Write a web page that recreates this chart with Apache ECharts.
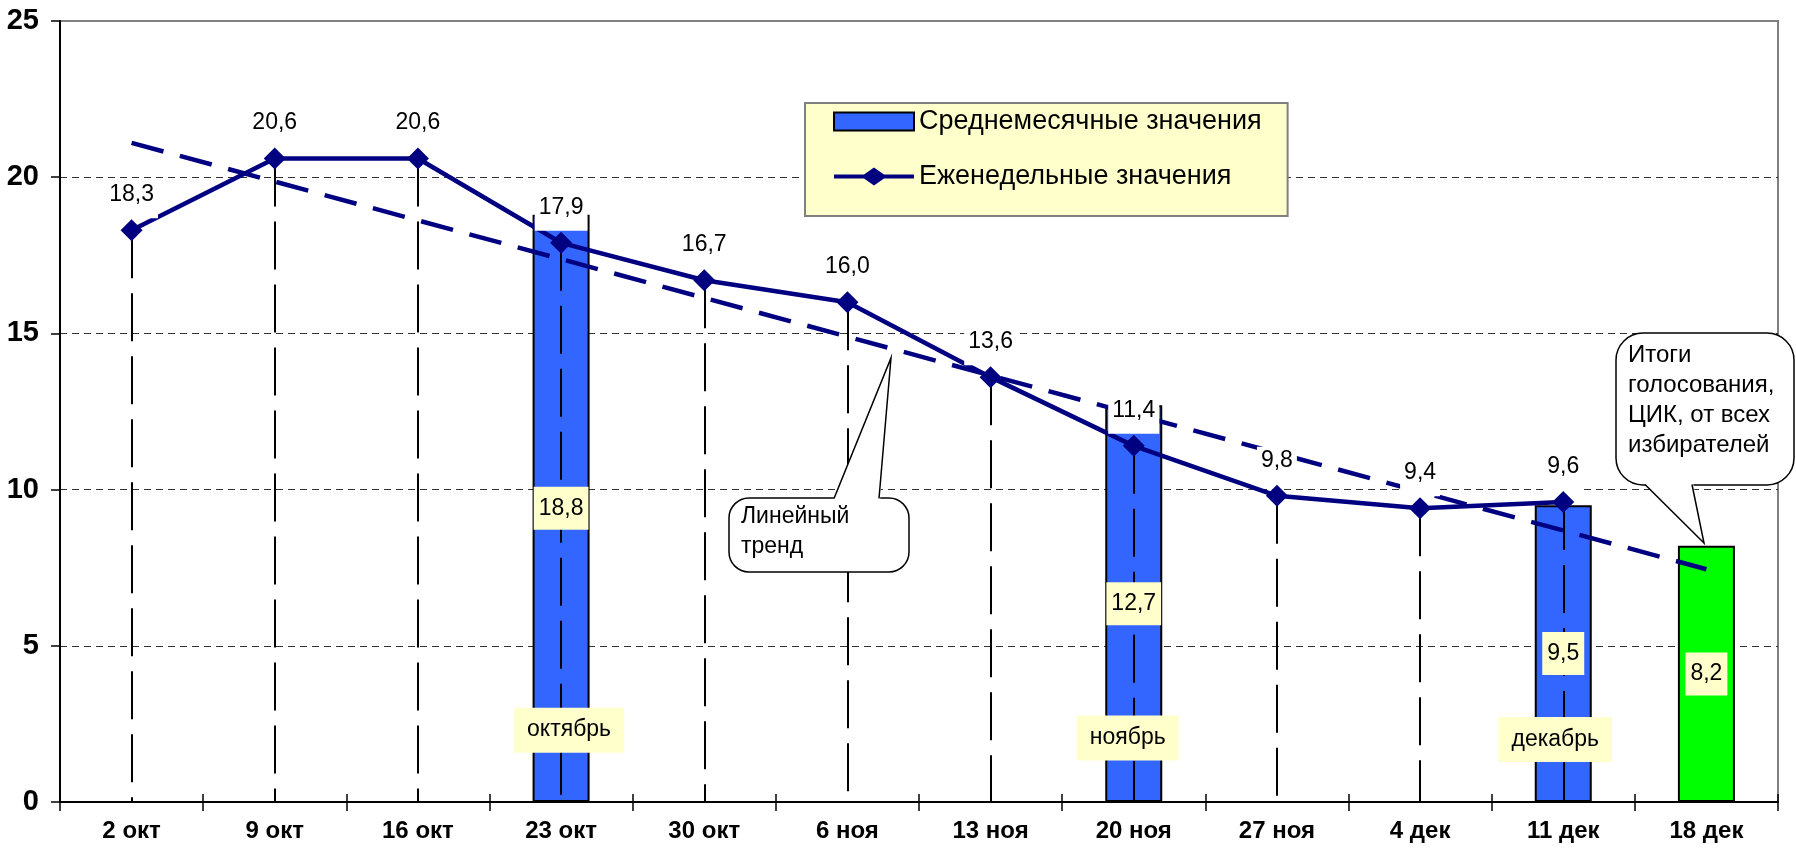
<!DOCTYPE html>
<html><head><meta charset="utf-8">
<script src="https://cdn.jsdelivr.net/npm/echarts@6/dist/echarts.min.js"></script>
<style>html,body{margin:0;padding:0;background:#fff}#c{width:1796px;height:851px}</style>
</head><body><div id="c"></div>
<script>
// ---- data ----
const categories = ['2 окт','9 окт','16 окт','23 окт','30 окт','6 ноя','13 ноя','20 ноя','27 ноя','4 дек','11 дек','18 дек'];
const weeklyValues  = [18.3, 20.6, 20.6, 17.9, 16.7, 16.0, 13.6, 11.4, 9.8, 9.4, 9.6, null];
const monthlyValues = [null, null, null, 18.8, null, null, null, 12.7, null, null, 9.5, null];
const cikValues     = [null, null, null, null, null, null, null, null, null, null, null, 8.2];
const trendValues   = [21.1, null, null, null, null, null, null, null, null, null, null, 7.45];
const monthNames      = ['октябрь', 'ноябрь', 'декабрь'];
const monthCategories = ['23 окт', '20 ноя', '11 дек'];
const monthLevels     = [2.3, 2.05, 2.0];
const yMin = 0, yMax = 25, yStep = 5;
const legendNames = ['Среднемесячные значения', 'Еженедельные значения'];
const trendCallout = 'Линейный\nтренд';
const cikCallout = 'Итоги\nголосования,\nЦИК, от всех\nизбирателей';

// ---- styling ----
const FONT = 'Arial, "Liberation Sans", sans-serif';
const NAVY = '#000080', BLUE = '#3366FF', GREEN = '#00FF00', CREAM = '#FFFFCC';
const fmt = v => Number(v).toFixed(1).replace('.', ',');

const barValues = categories.map((c, i) => cikValues[i] != null ? cikValues[i] : monthlyValues[i]);
const barData = categories.map((c, i) => {
  if (cikValues[i] != null) return { value: cikValues[i], itemStyle: { color: GREEN } };
  return monthlyValues[i];
});
// label anchors at the middle of each bar (same as 'inside' placement)
const barLabelData = [];
barValues.forEach((v, i) => { if (v != null) barLabelData.push({ name: fmt(v), value: [i, v / 2] }); });

const dropLines = [];
weeklyValues.forEach((v, i) => {
  if (v != null) dropLines.push([{ coord: [i, v] }, { coord: [i, 0] }]);
});

const monthOffsets = [[8, 0], [-6, 0], [-8, 0]];
const monthData = monthNames.map((m, i) => ({
  name: m,
  value: [categories.indexOf(monthCategories[i]), monthLevels[i]],
  label: { offset: monthOffsets[i] }
}));

const legendLineIcon = 'path://M0,7H30L40,0L50,7H80V11H50L40,18L30,11H0Z';

const chart = echarts.init(document.getElementById('c'), null, { renderer: 'canvas' });
chart.setOption({
  animation: false,
  backgroundColor: '#fff',
  textStyle: { fontFamily: FONT },
  grid: { left: 60, right: 18, top: 21, bottom: 49, show: true, borderColor: '#808080', borderWidth: 2, backgroundColor: 'transparent' },
  legend: {
    orient: 'vertical', left: 805, top: 103,
    backgroundColor: CREAM, borderColor: '#808080', borderWidth: 2,
    padding: [5, 26, 26, 28], itemGap: 28, itemWidth: 80, itemHeight: 18,
    textStyle: { fontSize: 27, color: '#000', fontFamily: FONT },
    data: [{ name: legendNames[0], icon: 'rect' }, { name: legendNames[1], icon: legendLineIcon }],
    selectedMode: false
  },
  xAxis: [{
    type: 'category', data: categories, boundaryGap: true,
    axisLine: { lineStyle: { color: '#000', width: 2 } },
    axisTick: { show: true, interval: 0, length: 9, lineStyle: { color: '#000', width: 1.5 } },
    axisLabel: { interval: 0, fontSize: 24, fontWeight: 'bold', color: '#000', margin: 17, fontFamily: FONT },
    splitLine: { show: false }
  }, {
    type: 'category', data: categories, boundaryGap: true, position: 'bottom',
    axisLine: { show: false },
    axisTick: { show: true, inside: true, interval: 0, length: 8, lineStyle: { color: '#000', width: 1.5 } },
    axisLabel: { show: false }, splitLine: { show: false }
  }],
  yAxis: {
    type: 'value', min: yMin, max: yMax, interval: yStep,
    axisLine: { show: true, lineStyle: { color: '#000', width: 2 } },
    axisTick: { show: true, length: 9, lineStyle: { color: '#000', width: 1.5 } },
    axisLabel: { fontSize: 29, fontWeight: 'bold', color: '#000', margin: 21, fontFamily: FONT },
    splitLine: { show: true, showMinLine: false, showMaxLine: false, lineStyle: { color: '#333', width: 1, type: [7, 5] } }
  },
  series: [
    {
      name: legendNames[0], type: 'bar', data: barData, barWidth: 57, z: 2,
      itemStyle: { color: BLUE, borderColor: '#000', borderWidth: 2 },
      label: { show: false }
    },
    {
      name: 'trend', type: 'line', data: trendValues, connectNulls: true, z: 4,
      symbol: 'none', lineStyle: { color: NAVY, width: 4.5, type: [33, 17] },
      itemStyle: { color: NAVY }, silent: true
    },
    {
      name: legendNames[1], type: 'line', data: weeklyValues, z: 5,
      symbol: 'diamond', symbolSize: 22,
      lineStyle: { color: NAVY, width: 4.5 }, itemStyle: { color: NAVY },
      label: {
        show: true, position: 'top', distance: 1, formatter: p => fmt(p.value),
        fontSize: 23, color: '#000', backgroundColor: '#fff', padding: [2, 4, 12, 4], fontFamily: FONT
      },
      markLine: {
        silent: true, symbol: 'none', z: 3,
        label: { show: false },
        lineStyle: { color: '#000', width: 2, type: [48, 15] },
        data: dropLines
      }
    },
    {
      name: 'barLabels', type: 'scatter', data: barLabelData, z: 6,
      symbolSize: 1, itemStyle: { color: 'rgba(0,0,0,0)', opacity: 1 }, silent: true,
      label: {
        show: true, position: 'inside', formatter: p => p.name, opacity: 1,
        fontSize: 23, color: '#000', backgroundColor: CREAM, padding: [10, 5], fontFamily: FONT
      }
    },
    {
      name: 'months', type: 'scatter', data: monthData, z: 6,
      symbolSize: 1, itemStyle: { color: 'rgba(0,0,0,0)', opacity: 1 }, silent: true,
      label: {
        show: true, position: 'inside', formatter: p => p.name, opacity: 1,
        fontSize: 23, color: '#000', backgroundColor: CREAM, padding: [11, 13], fontFamily: FONT
      }
    }
  ],
  graphic: [
    { type: 'rect', z: 100, shape: { x: 729, y: 498, width: 180, height: 74, r: 20 }, style: { fill: '#fff', stroke: '#000', lineWidth: 1.5 } },
    { type: 'polygon', z: 101, shape: { points: [[833, 500], [891, 358], [880, 500]] }, style: { fill: '#fff', stroke: null } },
    { type: 'polyline', z: 102, shape: { points: [[834, 498.5], [891, 358], [879, 498.5]] }, style: { fill: null, stroke: '#000', lineWidth: 1.5 } },
    { type: 'text', z: 103, style: { text: trendCallout, x: 741, y: 502, fontSize: 23, fontFamily: FONT, fill: '#000', lineHeight: 30, align: 'left', verticalAlign: 'top' } },

    { type: 'rect', z: 100, shape: { x: 1616, y: 333, width: 178, height: 152, r: 27 }, style: { fill: '#fff', stroke: '#000', lineWidth: 1.5 } },
    { type: 'polygon', z: 101, shape: { points: [[1644, 483], [1704, 543], [1693, 483]] }, style: { fill: '#fff', stroke: null } },
    { type: 'polyline', z: 102, shape: { points: [[1645, 484.5], [1704, 543], [1692, 484.5]] }, style: { fill: null, stroke: '#000', lineWidth: 1.5 } },
    { type: 'text', z: 103, style: { text: cikCallout, x: 1628, y: 340, fontSize: 24, fontFamily: FONT, fill: '#000', lineHeight: 30, align: 'left', verticalAlign: 'top' } }
  ]
});
</script>
</body></html>
